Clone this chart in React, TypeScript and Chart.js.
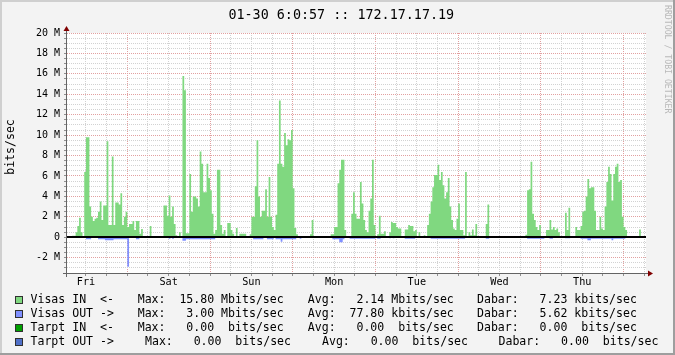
import React, { useEffect, useRef } from 'react';
import { Chart, registerables } from 'chart.js';

Chart.register(...registerables);

const W = 675;
const H = 355;

const TITLE = '01-30 6:0:57 :: 172.17.17.19';
const Y_TITLE = 'bits/sec';
const WATERMARK = 'RRDTOOL / TOBI OETIKER';
const DAY_LABELS = ['Fri', 'Sat', 'Sun', 'Mon', 'Tue', 'Wed', 'Thu'];
const HOURS_TOTAL = 168;
const BIN_HOURS = 0.5;
const FIRST_MIDNIGHT_H = 17.5;
const Y_MIN = -3.5;
const Y_MAX = 20;
const Y_STEP = 0.5;
const Y_LABEL_STEP = 2;

// Visas IN, Mbit/s, one value per 30 minutes (from Fri ~06:30)
const VISAS_IN = [
  0, 0, 0, 0.15, 0.15, 0.5, 1.1, 1.9, 0.5, 0, 6.4, 9.8,
  9.8, 3.0, 2.0, 1.6, 1.8, 1.9, 2.5, 3.5, 1.7, 3.1, 3.1, 9.4,
  1.2, 1.2, 7.9, 1.2, 3.4, 3.4, 3.2, 4.3, 1.2, 2.0, 2.5, 1.0,
  1.3, 1.3, 1.6, 0.7, 1.6, 1.6, 0.35, 0.8, 0, 0, 0, 0,
  1.1, 0, 0, 0, 0, 0, 0, 0, 3.1, 3.1, 2.1, 4.1,
  2.0, 3.0, 1.3, 0.2, 0, 0.5, 0, 15.8, 14.4, 0.4, 0.4, 6.2,
  2.5, 4.0, 4.0, 3.8, 3.0, 8.4, 7.2, 4.4, 4.4, 7.2, 5.8, 4.6,
  2.3, 0.35, 0.7, 6.6, 6.6, 1.2, 0.35, 0.7, 0, 1.4, 1.4, 0.7,
  0.35, 0, 0.9, 0, 0.35, 0.35, 0.35, 0.35, 0, 0, 0.3, 2.0,
  2.0, 5.0, 9.5, 4.0, 2.0, 2.6, 2.6, 4.7, 2.0, 5.9, 2.0, 1.0,
  0.7, 2.2, 7.2, 13.4, 7.2, 6.9, 10.2, 9.0, 9.6, 9.5, 10.5, 4.8,
  0.9, 0.3, 0, 0, 0, 0, 0, 0, 0, 0.3, 1.7, 0,
  0, 0, 0, 0, 0, 0, 0, 0, 0, 0.3, 0.3, 1.0,
  1.0, 5.3, 6.6, 7.6, 7.6, 0.7, 0.1, 0.1, 0.1, 2.3, 4.4, 2.3,
  1.8, 1.8, 5.4, 3.3, 1.7, 0.7, 0.5, 2.6, 3.8, 7.6, 1.2, 0,
  0.3, 2.1, 0.35, 0.35, 0.6, 0, 0.1, 0.5, 1.5, 1.4, 1.4, 1.0,
  0.85, 0.85, 0, 0, 0.75, 0.75, 1.2, 1.1, 1.1, 0.6, 0.7, 0.1,
  0.5, 0, 0, 0.2, 0, 1.2, 2.3, 3.5, 4.9, 6.1, 6.1, 7.1,
  5.6, 6.4, 5.1, 3.8, 4.4, 5.8, 3.0, 1.7, 0.85, 0.7, 1.8, 3.3,
  0.7, 0.7, 0.2, 6.4, 0.1, 0.5, 0.2, 0.75, 0.2, 1.3, 0.1, 0,
  0, 0, 0, 1.3, 3.2, 0, 0, 0, 0, 0, 0, 0,
  0, 0, 0, 0, 0, 0, 0, 0, 0, 0, 0, 0,
  0, 0, 0.25, 4.6, 4.7, 7.4, 2.3, 1.7, 1.0, 0.7, 1.2, 0,
  0, 0, 0.7, 0.7, 1.7, 0.75, 1.0, 0.7, 0.85, 0.5, 0, 0,
  0, 2.4, 0.7, 2.9, 0, 0, 0, 1.0, 0.7, 0.7, 1.1, 2.5,
  2.6, 4.0, 5.7, 4.8, 4.9, 4.9, 2.6, 0.7, 0.7, 2.0, 0.85, 0.7,
  3.0, 5.4, 6.9, 6.2, 3.6, 6.2, 6.9, 7.2, 5.4, 5.6, 2.0, 1.0,
  0.7, 0, 0, 0, 0, 0, 0, 0, 0.75, 0, 0, 0,
];

// Visas OUT, Mbit/s (drawn below zero), one value per 30 minutes
const VISAS_OUT = [
  0, 0, 0, 0, 0, 0, 0, 0, 0, 0, 0, 0.2,
  0.2, 0.2, 0, 0, 0, 0, 0.2, 0.2, 0.2, 0.2, 0.3, 0.3,
  0.3, 0.3, 0.3, 0.2, 0.2, 0.2, 0.2, 0.2, 0.2, 0.2, 0.2, 2.9,
  0, 0, 0, 0, 0.2, 0.2, 0, 0, 0, 0, 0, 0,
  0, 0, 0, 0, 0, 0, 0, 0, 0, 0, 0, 0.15,
  0, 0.15, 0, 0, 0, 0, 0, 0.35, 0.35, 0.2, 0.2, 0.2,
  0.2, 0.2, 0.2, 0.2, 0.2, 0.2, 0.2, 0.2, 0.2, 0.2, 0.2, 0.2,
  0.2, 0.2, 0, 0, 0, 0, 0, 0, 0, 0, 0, 0,
  0, 0, 0, 0, 0, 0, 0, 0, 0, 0, 0, 0,
  0.2, 0.2, 0.2, 0.2, 0.2, 0.2, 0, 0, 0.2, 0.2, 0.2, 0.2,
  0, 0.2, 0.2, 0.2, 0.45, 0.2, 0.2, 0.2, 0.2, 0.2, 0.2, 0.2,
  0.2, 0, 0, 0.15, 0, 0, 0, 0, 0, 0, 0, 0,
  0, 0, 0, 0, 0, 0, 0, 0, 0, 0, 0.2, 0.2,
  0.2, 0.2, 0.5, 0.5, 0.2, 0, 0, 0, 0.15, 0.15, 0.15, 0.15,
  0.15, 0.15, 0.15, 0.15, 0.15, 0.15, 0.15, 0.15, 0.15, 0.15, 0.15, 0,
  0.15, 0.15, 0, 0, 0, 0, 0, 0.1, 0, 0.1, 0, 0,
  0, 0, 0, 0, 0.15, 0.15, 0.15, 0.15, 0.15, 0.15, 0, 0,
  0, 0, 0, 0, 0, 0, 0, 0.15, 0.15, 0.15, 0.15, 0.15,
  0.15, 0.15, 0.15, 0.15, 0.15, 0.15, 0.15, 0.15, 0.15, 0.15, 0.15, 0.15,
  0.15, 0.15, 0.15, 0, 0, 0, 0, 0, 0, 0, 0, 0,
  0, 0, 0, 0.15, 0.15, 0, 0, 0, 0, 0, 0, 0,
  0, 0, 0, 0, 0, 0, 0, 0, 0, 0, 0, 0,
  0, 0, 0, 0.15, 0.15, 0.15, 0.15, 0.15, 0.15, 0.15, 0.15, 0.15,
  0.15, 0, 0, 0, 0.15, 0.15, 0, 0, 0, 0, 0, 0,
  0, 0.1, 0.1, 0.1, 0, 0, 0, 0, 0, 0, 0.15, 0.15,
  0.15, 0.15, 0.3, 0.3, 0.15, 0.15, 0.15, 0.15, 0.15, 0.15, 0.15, 0.15,
  0.15, 0.15, 0.15, 0.15, 0.3, 0.15, 0.15, 0.15, 0.15, 0.15, 0.15, 0.15,
  0, 0, 0, 0, 0, 0, 0, 0, 0, 0, 0, 0,
];

const LEGEND_NAMES = ['Visas IN  <-', 'Visas OUT ->', 'Tarpt IN  <-', 'Tarpt OUT ->'];
const LEGEND_COLORS = ['#80d880', '#8090ff', '#00a000', '#5070c8'];
const MAX_VALUES = [15.8, 3.0, 0, 0];
const MAX_UNITS = ['M', 'M', ' ', ' '];
const AVG_VALUES = [2.14, 77.8, 0, 0];
const AVG_UNITS = ['M', 'k', ' ', ' '];
const DABAR_VALUES = [7.23, 5.62, 0, 0];
const DABAR_UNITS = ['k', 'k', ' ', ' '];

const IN_COLOR = LEGEND_COLORS[0];
const OUT_COLOR = LEGEND_COLORS[1];
const MONO = '"DejaVu Sans Mono", monospace';

const fmt = (v: number) => v.toFixed(2).padStart(6, ' ');

const rrdPlugin = {
  id: 'rrdDecor',
  beforeDraw(chart: any) {
    const { ctx, chartArea: a } = chart;
    ctx.save();
    ctx.fillStyle = '#f3f3f3';
    ctx.fillRect(0, 0, W, H);
    ctx.fillStyle = '#cfcfcf';
    ctx.fillRect(0, 0, W, 2);
    ctx.fillRect(0, 0, 2, H);
    ctx.fillStyle = '#9e9e9e';
    ctx.fillRect(W - 2, 0, 2, H);
    ctx.fillRect(0, H - 2, W, 2);
    ctx.fillStyle = '#ffffff';
    ctx.fillRect(a.left, a.top, a.right - a.left, a.bottom - a.top);
    ctx.restore();
  },
  afterDatasetsDraw(chart: any) {
    const { ctx, chartArea: a, scales } = chart;
    const y0 = Math.round(scales.y.getPixelForValue(0));
    ctx.save();
    ctx.fillStyle = '#000000';
    ctx.fillRect(a.left, y0 - 1, a.right - a.left, 2);
    ctx.restore();
  },
  afterDraw(chart: any) {
    const { ctx, chartArea: a } = chart;
    ctx.save();
    // axes
    ctx.fillStyle = '#646464';
    ctx.fillRect(a.left - 1, a.top - 4, 1, a.bottom - a.top + 8);
    ctx.fillRect(a.left - 4, a.bottom, a.right - a.left + 6, 1);
    // arrows
    ctx.fillStyle = '#800000';
    ctx.beginPath();
    ctx.moveTo(a.left - 0.5, a.top - 7);
    ctx.lineTo(a.left - 3.5, a.top - 2);
    ctx.lineTo(a.left + 2.5, a.top - 2);
    ctx.closePath();
    ctx.fill();
    ctx.beginPath();
    ctx.moveTo(a.right + 7, a.bottom + 0.5);
    ctx.lineTo(a.right + 2, a.bottom - 2.5);
    ctx.lineTo(a.right + 2, a.bottom + 3.5);
    ctx.closePath();
    ctx.fill();

    // title
    ctx.fillStyle = '#000000';
    ctx.font = `13.4px ${MONO}`;
    ctx.textAlign = 'center';
    ctx.textBaseline = 'alphabetic';
    ctx.fillText(TITLE, 341.3, 19);

    // y title
    ctx.save();
    ctx.translate(11, 147);
    ctx.rotate(-Math.PI / 2);
    ctx.font = `11.55px ${MONO}`;
    ctx.textAlign = 'center';
    ctx.textBaseline = 'middle';
    ctx.fillText(Y_TITLE, 0, 0);
    ctx.restore();

    // watermark
    ctx.save();
    ctx.translate(667, 5);
    ctx.rotate(Math.PI / 2);
    ctx.font = `8.2px ${MONO}`;
    ctx.fillStyle = '#b8b8b8';
    ctx.textAlign = 'left';
    ctx.textBaseline = 'middle';
    ctx.fillText(WATERMARK, 0, 0);
    ctx.restore();

    // legend
    ctx.font = `11.55px ${MONO}`;
    ctx.textAlign = 'left';
    ctx.textBaseline = 'alphabetic';
    const colsNormal = [30.5, 137.7, 307.8, 477];
    const colsLast = [30.5, 145, 322, 498.5];
    LEGEND_NAMES.forEach((name, i) => {
      const base = 303 + i * 14;
      ctx.fillStyle = LEGEND_COLORS[i];
      ctx.fillRect(15, base - 7, 7, 7);
      ctx.strokeStyle = '#303030';
      ctx.lineWidth = 1;
      ctx.strokeRect(15.5, base - 6.5, 7, 7);
      const cols = i === LEGEND_NAMES.length - 1 ? colsLast : colsNormal;
      const segs = [
        name,
        'Max: ' + fmt(MAX_VALUES[i]) + ' ' + MAX_UNITS[i] + 'bits/sec',
        'Avg: ' + fmt(AVG_VALUES[i]) + ' ' + AVG_UNITS[i] + 'bits/sec',
        'Dabar: ' + fmt(DABAR_VALUES[i]) + ' ' + DABAR_UNITS[i] + 'bits/sec',
      ];
      ctx.fillStyle = '#000000';
      segs.forEach((s, k) => ctx.fillText(s, cols[k], base));
    });
    ctx.restore();
  },
};

const isMidnight = (h: number) => Math.abs(((h - FIRST_MIDNIGHT_H) % 24 + 24) % 24) < 1e-6;
const isNoon = (h: number) => Math.abs(((h - FIRST_MIDNIGHT_H - 12) % 24 + 24) % 24) < 1e-6;

export default function App() {
  const ref = useRef<HTMLCanvasElement | null>(null);

  useEffect(() => {
    if (!ref.current) return;
    const toPoints = (arr: number[], sign: number) => {
      const pts = arr.map((v, i) => ({ x: i * BIN_HOURS, y: sign * v }));
      pts.push({ x: HOURS_TOTAL, y: sign * arr[arr.length - 1] });
      return pts;
    };
    const xTicks: number[] = [];
    for (let h = FIRST_MIDNIGHT_H - 12; h <= HOURS_TOTAL; h += 6) xTicks.push(h);
    const yTicks: number[] = [];
    for (let v = Y_MIN; v <= Y_MAX + 1e-9; v += Y_STEP) yTicks.push(Math.round(v * 10) / 10);

    const chart = new Chart(ref.current, {
      type: 'line',
      data: {
        datasets: [
          {
            data: toPoints(VISAS_IN, 1),
            stepped: true,
            fill: 'origin',
            backgroundColor: IN_COLOR,
            borderColor: 'rgba(0,0,0,0)',
            borderWidth: 0,
            pointRadius: 0,
          },
          {
            data: toPoints(VISAS_OUT, -1),
            stepped: true,
            fill: 'origin',
            backgroundColor: OUT_COLOR,
            borderColor: 'rgba(0,0,0,0)',
            borderWidth: 0,
            pointRadius: 0,
          },
        ],
      },
      plugins: [rrdPlugin],
      options: {
        responsive: false,
        animation: false,
        devicePixelRatio: 1,
        events: [],
        layout: { padding: { left: 0, top: 33, right: 29, bottom: 0 }, autoPadding: false },
        plugins: { legend: { display: false }, title: { display: false }, tooltip: { enabled: false } },
        scales: {
          x: {
            type: 'linear',
            min: 0,
            max: HOURS_TOTAL,
            afterFit: (s: any) => { s.height = 82; },
            afterBuildTicks: (s: any) => { s.ticks = xTicks.map((v) => ({ value: v })); },
            ticks: {
              autoSkip: false,
              maxRotation: 0,
              minRotation: 0,
              padding: 0,
              color: '#000000',
              font: { family: 'DejaVu Sans Mono', size: 10.2 },
              callback: (v: any) => {
                const h = Number(v);
                if (!isNoon(h)) return '';
                const d = Math.round((h - (FIRST_MIDNIGHT_H - 12)) / 24);
                return DAY_LABELS[d] ?? '';
              },
            },
            grid: {
              color: (c: any) => (isMidnight(c.tick?.value ?? -1) ? '#e2a0a0' : '#d2d2d2'),
              lineWidth: 1,
              tickLength: 3,
              tickColor: '#909090',
              drawTicks: true,
            },
            border: { display: false, dash: [1, 1] },
          },
          y: {
            type: 'linear',
            min: Y_MIN,
            max: Y_MAX,
            afterFit: (s: any) => { s.width = 67; },
            afterBuildTicks: (s: any) => { s.ticks = yTicks.map((v) => ({ value: v })); },
            ticks: {
              autoSkip: false,
              padding: 4,
              color: '#000000',
              font: { family: 'DejaVu Sans Mono', size: 10 },
              callback: (v: any) => {
                const n = Number(v);
                if (Math.abs(n % Y_LABEL_STEP) > 1e-6) return '';
                return n === 0 ? '0' : `${n} M`;
              },
            },
            grid: {
              color: (c: any) => (Math.abs((c.tick?.value ?? 0.5) % Y_LABEL_STEP) < 1e-6 ? '#e2a0a0' : '#d2d2d2'),
              lineWidth: 1,
              tickLength: 3,
              tickColor: '#909090',
              drawTicks: true,
            },
            border: { display: false, dash: [1, 1] },
          },
        },
      },
    } as any);
    return () => chart.destroy();
  }, []);

  return (
    <div style={{ position: 'absolute', left: 0, top: 0, width: W, height: H }}>
      <canvas ref={ref} width={W} height={H} style={{ display: 'block', width: W, height: H }} />
    </div>
  );
}
